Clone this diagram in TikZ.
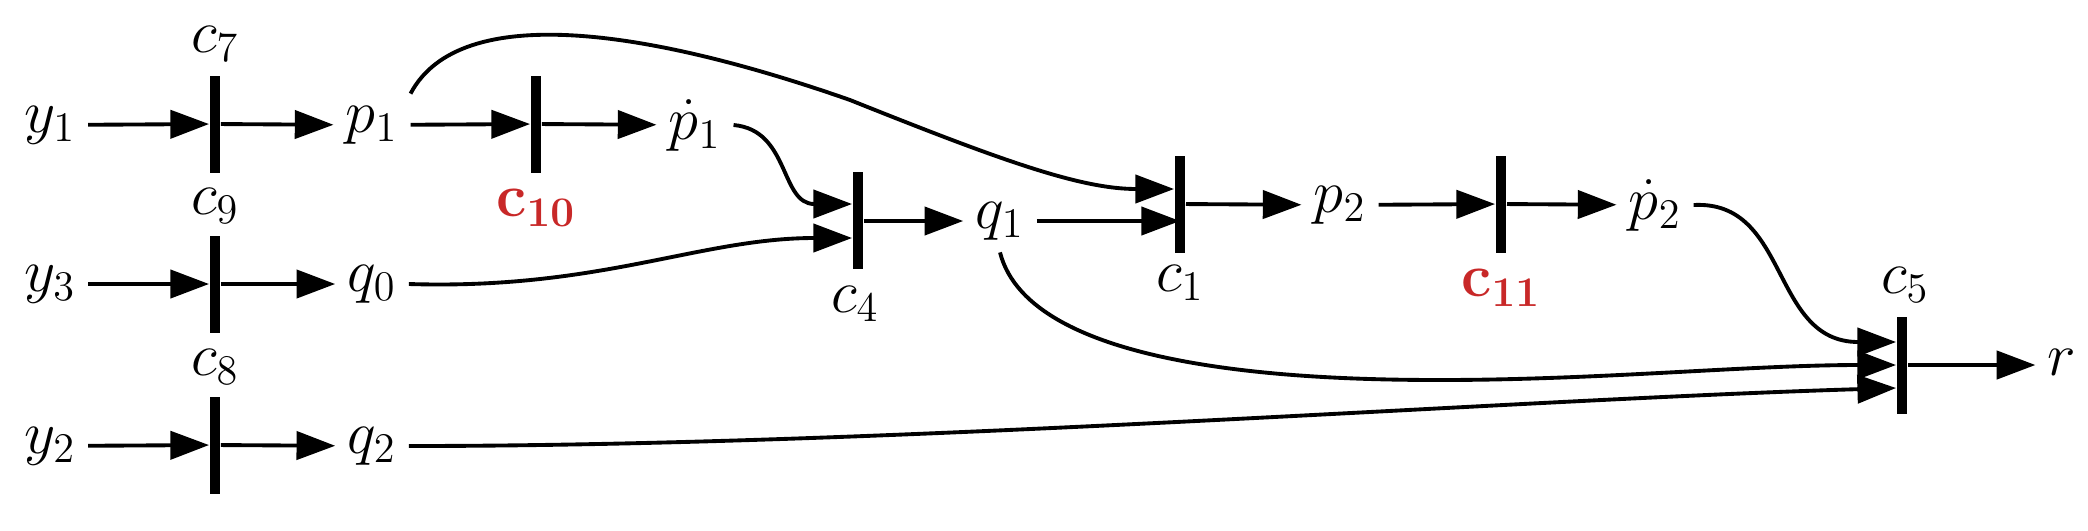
\documentclass[tikz,border=0pt]{standalone}
\usepackage{amsmath}
\usetikzlibrary{arrows.meta}
\definecolor{trred}{RGB}{200,40,40}
\tikzset{
  lbl/.style={font=\LARGE},
  bar/.style={fill=black,inner sep=0pt,minimum width=3pt,minimum height=#1},
  bar/.default=0.97cm,
  arc/.style={-{Triangle[length=11pt,width=8pt]},line width=1.1pt},
  red/.style={font=\LARGE\bfseries,text=trred}
}
\begin{document}
\begin{tikzpicture}[x=1cm,y=1cm]
\useasboundingbox (0,0) rectangle (20.88,5.30);

% row 1
\node[lbl] (y1) at (0.5,4.05) {$y_1$};
\node[bar] (t7) at (2.15,4.06) {};
\node[lbl] at (2.15,4.86) {$c_7$};
\node[lbl] (p1) at (3.72,4.05) {$p_1$};
\node[bar] (t10) at (5.36,4.06) {};
\node[red] at (5.36,3.22) {$\boldsymbol{\mathrm{c}_{10}}$};
\node[lbl] (pd1) at (6.95,4.05) {$\dot p_1$};

% row 2
\node[lbl] (y3) at (0.5,2.46) {$y_3$};
\node[bar] (t9) at (2.15,2.46) {};
\node[lbl] at (2.15,3.24) {$c_9$};
\node[lbl] (q0) at (3.72,2.46) {$q_0$};
\node[bar] (t4) at (8.58,3.1) {};
\node[lbl] at (8.55,2.26) {$c_4$};
\node[lbl] (q1) at (10.0,3.09) {$q_1$};
\node[bar] (t1) at (11.8,3.26) {};
\node[lbl] at (11.8,2.47) {$c_1$};
\node[lbl] (p2) at (13.4,3.25) {$p_2$};
\node[bar] (t11) at (15.01,3.26) {};
\node[red] at (15.01,2.42) {$\boldsymbol{\mathrm{c}_{11}}$};
\node[lbl] (pd2) at (16.55,3.25) {$\dot p_2$};

% row 3
\node[lbl] (y2) at (0.5,0.84) {$y_2$};
\node[bar] (t8) at (2.15,0.85) {};
\node[lbl] at (2.15,1.63) {$c_8$};
\node[lbl] (q2) at (3.72,0.84) {$q_2$};
\node[bar] (t5) at (19.02,1.65) {};
\node[lbl] at (19.05,2.45) {$c_5$};
\node[lbl] (r) at (20.62,1.68) {$r$};

% straight arcs
\draw[arc] (y1) -- (t7);
\draw[arc] (t7) -- (p1);
\draw[arc] (p1) -- (t10);
\draw[arc] (t10) -- (pd1);
\draw[arc] (y3) -- (t9);
\draw[arc] (t9) -- (q0);
\draw[arc] (y2) -- (t8);
\draw[arc] (t8) -- (q2);
\draw[arc] (t4.east |- 0,3.09) -- (q1);
\draw[arc] (q1) -- (q1 -| t1);
\draw[arc] (t1) -- (p2);
\draw[arc] (p2) -- (t11);
\draw[arc] (t11) -- (pd2);
\draw[arc] (t5.east |- 0,1.65) -- (r.west |- 0,1.65);

% curved arcs
\draw[arc] (pd1.east) .. controls (7.9,4.0) and (7.8,3.26) .. (t4.west |- 0,3.26);
\draw[arc] (q0.east) .. controls (6.0,2.4) and (7.0,2.92) .. (t4.west |- 0,2.92);
\draw[arc] (p1.north east) .. controls (4.6,5.3) and (6.5,5.0) .. (8.5,4.3) .. controls (10.0,3.7) and (10.8,3.41) .. (t1.west |- 0,3.41);
\draw[arc] (q1.south) .. controls (10.3,1.6) and (13.0,1.5) .. (14.4,1.5) .. controls (16.0,1.5) and (17.5,1.65) .. (t5.west |- 0,1.65);
\draw[arc] (pd2.east) .. controls (17.9,3.3) and (17.7,1.88) .. (t5.west |- 0,1.88);
\draw[arc] (q2.east) .. controls (9.0,0.84) and (15.0,1.3) .. (t5.west |- 0,1.42);
\end{tikzpicture}
\end{document}
